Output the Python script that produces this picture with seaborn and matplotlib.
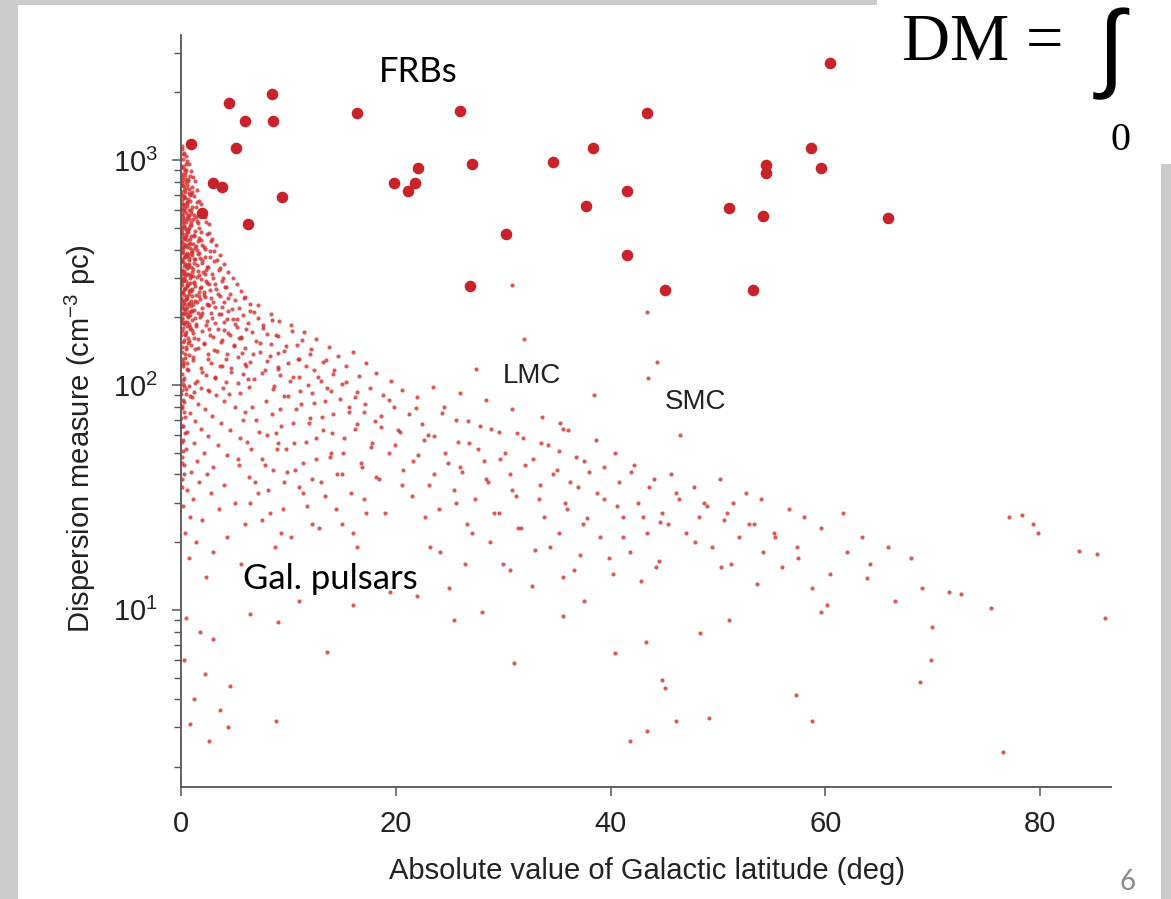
import matplotlib
matplotlib.use("Agg")
import matplotlib.pyplot as plt
from matplotlib.patches import Rectangle
import seaborn as sns
import pandas as pd

# ---------------- data ----------------
# Fast radio bursts: (|b| in deg, DM in pc cm^-3)
frb_lat = [0.9, 4.5, 8.5, 6.0, 8.6, 5.1, 3.0, 3.8, 2.0, 6.2, 9.4, 16.4, 19.8, 21.1,
           21.8, 22.1, 26.0, 27.1, 26.9, 30.3, 34.6, 38.4, 37.7, 41.5, 41.5, 43.4,
           45.1, 51.0, 53.3, 54.2, 54.5, 54.5, 58.7, 59.6, 60.4, 65.8]
frb_dm = [1178, 1792, 1963, 1490, 1490, 1131, 790, 759, 581, 520, 685, 1618, 790, 728,
          790, 921, 1651, 960, 275, 469, 980, 1131, 625, 728, 378, 1618,
          264, 612, 264, 564, 950, 875, 1131, 921, 2698, 552]

# Galactic pulsars, grouped by region of the sky
psr_plane = [
    (0.05, 1150), (0.3, 1080), (0.15, 1010), (0.6, 990), (0.2, 940), (0.45, 905), (0.1, 870), (0.8, 850), (0.35, 820), (0.05, 790),
    (0.55, 775), (1.0, 760), (0.25, 735), (0.7, 715), (0.1, 700), (0.4, 680), (1.2, 690), (0.85, 655), (0.2, 640), (0.55, 625),
    (0.05, 610), (1.4, 620), (0.3, 595), (0.9, 580), (0.65, 565), (0.15, 550), (1.1, 545), (0.45, 530), (1.6, 525), (0.25, 510),
    (0.75, 500), (0.05, 490), (1.3, 485), (0.5, 470), (0.95, 462), (0.2, 455), (1.7, 450), (0.6, 440), (0.1, 430), (1.15, 425),
    (0.35, 415), (0.8, 405), (1.5, 400), (0.05, 392), (0.55, 385), (1.0, 378), (0.25, 370), (1.8, 368), (0.7, 360), (0.15, 352),
    (1.25, 348), (0.45, 340), (0.9, 333), (0.05, 326), (1.6, 322), (0.3, 316), (0.65, 310), (1.1, 304), (0.2, 298), (1.9, 295),
    (0.5, 290), (0.85, 284), (0.1, 278), (1.35, 275), (0.4, 268), (0.75, 262), (1.7, 258), (0.25, 252), (1.05, 248), (0.6, 243),
    (0.05, 238), (1.5, 235), (0.35, 230), (0.95, 225), (0.15, 220), (1.25, 216), (0.7, 211), (0.45, 206), (1.85, 204), (0.1, 199),
    (1.0, 195), (0.55, 190), (0.3, 186), (1.4, 183), (0.8, 178), (0.05, 174), (1.15, 170), (0.4, 166), (0.65, 162), (1.6, 160),
    (0.2, 155), (0.95, 151), (0.5, 147), (1.3, 144), (0.1, 140), (0.75, 136), (0.35, 132), (1.1, 129), (0.6, 125), (0.15, 121),
    (0.12, 1120), (0.42, 1045), (0.7, 960), (0.28, 915), (0.95, 890), (0.08, 845), (0.5, 800), (1.3, 810), (0.22, 770), (0.78, 745),
    (0.38, 725), (1.05, 720), (0.12, 665), (0.62, 670), (1.5, 650), (0.32, 630), (0.95, 600), (0.05, 575), (0.48, 580), (1.25, 570),
    (0.72, 545), (0.18, 525), (1.45, 535), (0.88, 515), (0.42, 495), (1.9, 480), (0.1, 475), (0.68, 480), (1.2, 460), (0.3, 445),
    (0.82, 430), (1.55, 435), (0.05, 410), (0.5, 420), (1.3, 405), (2.0, 420), (0.22, 398), (0.98, 392), (0.62, 380), (1.7, 385),
    (0.1, 365), (0.4, 372), (1.18, 362), (2.2, 370), (0.75, 345), (0.28, 338), (1.45, 340), (0.05, 312), (0.58, 330), (1.0, 318),
    (2.3, 325), (0.38, 305), (1.7, 308), (0.85, 298), (0.15, 290), (1.25, 288), (0.55, 278), (2.4, 285), (1.9, 272), (0.3, 266),
    (1.0, 268), (0.7, 255), (0.08, 258), (1.4, 252), (2.1, 250), (0.45, 242), (0.9, 236), (1.75, 240), (0.2, 232), (1.15, 228),
    (0.6, 222), (2.5, 226), (0.35, 212), (1.6, 210), (0.05, 208), (0.85, 205), (1.3, 198), (0.15, 188), (0.6, 182), (1.05, 175),
]
psr_midplane = [
    (0.16, 1064), (0.51, 962), (0.04, 928), (0.33, 862), (0.69, 828), (0.11, 812), (0.47, 752), (0.03, 724), (0.89, 708), (0.26, 689),
    (0.58, 652), (0.09, 637), (0.36, 612), (0.77, 598), (0.21, 563), (0.52, 553), (0.06, 536), (0.93, 528), (0.31, 505), (0.64, 492),
    (0.13, 468), (0.43, 458), (0.83, 448), (0.02, 437), (0.27, 422), (0.57, 412), (1.06, 398), (0.16, 386), (0.44, 377), (0.79, 366),
    (0.04, 358), (0.34, 344), (0.67, 336), (0.12, 322), (0.49, 313), (0.92, 306), (0.24, 296), (0.03, 286), (0.61, 280), (0.37, 271),
    (0.81, 264), (0.14, 259), (0.52, 248), (0.02, 243), (0.29, 236), (0.73, 231), (0.11, 224), (0.42, 218), (0.96, 214), (0.21, 207),
    (0.63, 201), (0.05, 196), (0.34, 190), (0.78, 186), (0.17, 179), (0.48, 172), (0.03, 166), (0.27, 159), (0.69, 153), (0.12, 147),
    (0.41, 138), (0.06, 131), (0.23, 124), (0.55, 118), (0.09, 112), (0.32, 107), (0.14, 101), (0.44, 96), (0.04, 91), (0.19, 86),
    (0.07, 81), (0.28, 76), (0.03, 71), (0.15, 66), (0.36, 61), (0.05, 56), (0.21, 51), (0.1, 45), (0.27, 40), (0.06, 35),
]
psr_disk = [
    (0.37, 883), (1.12, 842), (0.63, 806), (0.19, 771), (1.48, 733), (0.86, 702), (0.27, 684), (1.71, 661), (0.53, 644), (1.02, 617),
    (0.14, 602), (2.06, 588), (0.78, 571), (1.36, 556), (0.41, 541), (2.31, 528), (0.97, 512), (0.07, 503), (1.63, 497), (0.59, 483),
    (2.58, 476), (1.21, 466), (0.33, 451), (1.87, 443), (2.82, 437), (0.74, 424), (1.44, 417), (0.18, 409), (2.19, 402), (3.07, 396),
    (0.91, 388), (1.58, 381), (0.46, 374), (2.67, 371), (1.29, 364), (3.34, 358), (0.09, 355), (1.96, 349), (0.67, 342), (2.44, 336),
    (3.61, 331), (1.13, 327), (0.31, 321), (2.03, 318), (2.91, 312), (0.82, 307), (1.52, 302), (3.88, 299), (0.23, 293), (2.36, 289),
    (1.18, 283), (3.17, 280), (0.57, 276), (1.81, 270), (4.13, 272), (2.72, 265), (0.94, 261), (0.13, 256), (3.46, 254), (1.67, 249),
    (2.24, 245), (0.49, 241), (4.41, 243), (1.34, 237), (3.02, 234), (0.76, 229), (2.57, 227), (3.79, 223), (1.93, 219), (0.26, 217),
    (4.72, 218), (1.07, 213), (2.84, 209), (3.53, 207), (0.61, 203), (1.74, 200), (4.28, 197), (2.39, 193), (0.04, 191), (3.21, 189),
    (1.41, 186), (5.03, 187), (0.88, 181), (2.63, 178), (3.97, 176), (1.98, 173), (0.35, 169), (4.57, 167), (2.97, 164), (1.22, 162),
    (5.36, 161), (0.72, 157), (3.68, 155), (2.15, 152), (4.91, 149), (1.56, 146), (0.44, 144), (3.33, 141), (2.48, 137), (5.71, 139),
    (1.09, 133), (4.18, 131), (0.21, 127), (2.77, 125), (3.86, 122), (1.83, 119), (6.04, 121), (0.66, 116), (4.66, 114), (2.29, 111),
    (3.12, 107), (1.47, 104), (5.28, 102), (0.29, 99), (3.93, 97), (2.53, 95), (6.37, 98), (1.17, 93), (4.47, 91), (0.84, 89),
]
psr_inner = [
    (1.9, 640), (2.2, 560), (2.6, 520), (1.8, 590), (2.4, 470), (2.9, 445), (3.3, 420), (2.1, 410), (2.7, 395), (3.6, 380),
    (2.0, 360), (3.1, 355), (4.0, 345), (2.5, 335), (3.5, 325), (4.4, 318), (2.2, 310), (3.0, 300), (4.8, 298), (3.8, 290),
    (2.6, 282), (5.2, 280), (4.2, 272), (3.3, 266), (2.1, 260), (5.6, 262), (4.6, 255), (3.6, 249), (2.8, 244), (6.0, 246),
    (5.0, 238), (4.0, 233), (2.4, 228), (6.4, 230), (3.2, 222), (5.4, 220), (4.4, 214), (2.0, 210), (6.8, 212), (3.7, 206),
    (5.8, 204), (2.9, 199), (4.8, 196), (7.2, 198), (4.0, 190), (6.2, 188), (2.3, 184), (5.2, 181), (3.4, 177), (7.6, 180),
    (6.6, 172), (4.4, 170), (2.7, 166), (8.0, 168), (5.6, 163), (3.8, 159), (7.0, 157), (2.1, 153), (4.9, 150), (8.4, 152),
    (6.0, 146), (3.1, 143), (7.4, 140), (4.3, 137), (9.0, 139), (5.3, 133), (2.5, 130), (8.0, 128), (6.4, 126), (3.6, 122),
    (10.0, 125), (4.7, 119), (7.8, 117), (2.0, 114), (5.8, 112), (9.2, 111), (3.2, 108), (6.8, 106), (11.0, 108), (4.2, 103),
]
psr_spread = [
    (5.83, 243), (7.14, 227), (6.47, 214), (8.36, 206), (5.21, 197), (9.12, 193), (7.68, 184), (6.09, 178), (10.37, 174), (8.81, 166),
    (5.57, 161), (11.23, 158), (7.36, 153), (9.74, 149), (12.08, 144), (6.72, 138), (8.27, 135), (10.91, 131), (13.46, 129), (5.94, 124),
    (11.62, 121), (9.03, 118), (14.28, 116), (7.51, 113), (12.79, 109), (6.28, 106), (10.14, 104), (15.37, 103), (8.66, 99), (13.58, 97),
    (11.07, 94), (5.46, 92), (16.42, 93), (9.58, 89), (14.81, 87), (7.93, 85), (12.36, 83), (6.61, 80), (17.13, 82), (10.73, 78),
    (15.62, 76), (8.49, 74), (13.17, 72), (5.77, 70), (11.89, 68), (18.06, 69), (9.31, 66), (16.24, 64), (7.22, 62), (14.03, 61),
    (12.54, 58), (6.16, 56), (10.48, 55), (17.71, 53), (8.94, 52), (15.08, 50), (13.92, 48), (5.34, 47), (11.33, 45), (7.79, 44),
    (16.87, 43), (9.86, 41), (14.56, 40), (12.19, 38), (6.87, 37), (18.42, 38), (10.97, 35), (8.13, 34), (15.84, 33), (13.37, 32),
    (6.41, 30), (11.76, 29), (9.47, 28), (17.26, 27), (7.58, 25), (14.97, 24), (12.83, 23), (10.22, 21), (8.71, 19), (16.39, 19),
]
psr_low_lat = [
    (0.2, 105), (0.7, 99), (1.3, 102), (0.1, 95), (1.9, 97), (0.5, 91), (2.6, 94), (1.0, 88), (0.3, 84), (3.3, 90),
    (1.6, 82), (0.05, 79), (4.0, 85), (2.2, 78), (0.8, 75), (5.0, 80), (0.4, 72), (2.9, 73), (1.3, 69), (6.0, 76),
    (0.1, 66), (3.7, 68), (1.9, 64), (0.6, 62), (4.6, 63), (7.0, 70), (2.5, 59), (0.2, 57), (5.5, 58), (1.2, 55),
    (3.4, 54), (8.0, 60), (0.5, 52), (6.5, 52), (2.1, 50), (0.05, 48), (4.3, 49), (1.5, 46), (9.0, 55), (7.5, 47),
    (0.3, 44), (3.0, 43), (5.4, 44), (0.9, 41), (2.4, 40), (8.6, 42), (0.1, 38), (6.3, 39), (1.7, 37), (4.0, 36),
    (0.6, 34), (9.6, 37), (2.8, 33), (7.2, 33), (1.1, 31), (0.2, 29), (5.0, 30), (3.5, 28), (0.8, 26), (8.3, 27),
    (2.0, 25), (6.0, 24), (0.4, 22), (4.3, 21), (1.4, 20), (9.3, 22), (3.0, 18), (0.7, 17), (5.6, 16), (2.3, 14),
]
psr_mid_lat = [
    (8.5, 195), (10.2, 185), (9.0, 165), (11.5, 172), (12.6, 160), (10.8, 150), (13.8, 148), (9.6, 142), (12.0, 138), (14.6, 135),
    (16.0, 140), (11.0, 130), (13.2, 126), (15.4, 122), (9.0, 120), (17.2, 125), (12.4, 116), (14.2, 112), (10.4, 108), (16.6, 110),
    (18.2, 113), (13.0, 104), (11.8, 100), (15.0, 101), (19.6, 104), (8.6, 96), (17.6, 97), (14.0, 94), (12.2, 92), (20.6, 95),
    (10.0, 89), (16.2, 88), (18.8, 90), (13.4, 85), (22.0, 88), (11.2, 82), (15.6, 80), (9.2, 78), (19.8, 80), (17.0, 76),
    (14.2, 74), (12.0, 71), (21.2, 74), (10.4, 68), (16.4, 67), (18.6, 65), (13.2, 63), (8.8, 61), (20.4, 62), (15.2, 58),
    (11.6, 56), (17.8, 55), (22.6, 57), (9.8, 52), (14.0, 50), (19.4, 50), (12.6, 47), (16.8, 45), (21.6, 46), (10.6, 42),
    (15.0, 40), (18.2, 39), (13.0, 37), (20.6, 36), (11.4, 33), (17.0, 31), (14.4, 28), (19.0, 27), (12.2, 24), (16.0, 22),
]
psr_band = [
    (19.37, 86), (21.84, 79), (18.62, 73), (24.27, 75), (22.46, 67), (26.73, 69), (20.18, 63), (28.91, 64), (23.57, 59), (31.26, 61),
    (25.82, 56), (19.94, 54), (33.48, 55), (27.63, 52), (22.09, 49), (35.17, 51), (29.74, 47), (24.86, 45), (37.52, 46), (32.04, 44),
    (20.71, 42), (39.36, 43), (26.18, 41), (34.67, 40), (41.93, 41), (28.37, 38), (23.11, 36), (36.24, 37), (43.58, 35), (30.82, 34),
    (38.71, 33), (21.47, 32), (46.13, 33), (33.29, 31), (25.63, 30), (40.57, 29), (48.74, 30), (35.92, 28), (29.18, 27), (43.06, 26),
    (50.87, 27), (22.73, 26), (37.43, 24), (45.39, 24), (31.67, 23), (52.91, 24), (27.06, 22), (41.12, 21), (47.82, 20), (34.36, 19),
    (55.28, 21), (24.14, 18), (39.88, 17), (44.51, 16.5), (29.97, 16), (50.24, 15.5), (36.61, 15), (57.47, 17), (42.83, 13.5), (32.72, 12.8),
]
psr_high_lat = [
    (23.5, 98), (26.0, 92), (24.5, 80), (28.4, 86), (30.8, 78), (25.6, 70), (27.8, 66), (33.6, 72), (29.6, 62), (31.8, 58),
    (23.0, 60), (36.0, 63), (26.8, 55), (34.2, 54), (38.6, 57), (24.6, 50), (30.2, 50), (28.2, 46), (32.8, 47), (36.8, 48),
    (40.4, 50), (26.0, 43), (35.0, 42), (23.6, 40), (30.6, 40), (38.0, 41), (42.2, 44), (28.6, 37), (33.4, 36), (25.4, 34),
    (37.0, 35), (40.8, 37), (44.0, 38), (31.2, 32), (27.4, 31), (35.8, 30), (39.4, 31), (42.6, 30), (24.0, 28), (29.6, 27),
    (33.8, 26), (37.8, 25.5), (41.2, 26), (44.8, 27), (26.6, 24), (31.4, 23), (35.2, 22), (39.0, 21), (43.4, 22), (28.8, 20),
    (23.2, 19), (33.0, 18.5), (37.2, 17.5), (41.8, 18), (26.4, 16), (30.6, 15), (35.6, 14), (40.2, 14.5), (44.2, 15.5), (25.0, 12.5),
    (45.6, 40), (47.8, 35), (50.2, 38), (52.6, 33), (46.4, 31), (49.0, 29), (51.4, 30), (54.0, 31), (56.6, 28), (48.2, 26),
    (44.6, 24.6), (50.6, 25), (53.4, 24), (58.0, 26), (61.6, 27), (47.0, 22), (52.0, 21), (55.2, 22), (59.6, 23), (63.4, 21),
    (49.4, 19), (54.2, 18), (57.4, 19), (62.0, 18), (65.8, 19), (51.2, 16), (56.0, 15.5), (60.4, 14.5), (64.2, 16), (68.0, 17),
    (53.6, 13), (58.8, 12.5), (63.9, 13.9), (69.0, 12.5), (71.5, 12), (72.6, 11.8), (77.1, 25.9), (78.3, 26.5), (79.3, 24), (79.8, 22),
    (83.6, 18.2), (85.3, 17.7), (75.4, 10.2), (66.5, 11), (60.2, 10.5),
]
psr_magellanic = [
    (30.8, 278), (35.3, 68), (35.6, 64), (31.9, 160), (43.4, 211), (44.3, 126), (43.5, 107), (27.5, 118), (38.5, 90), (46.5, 60),
]
psr_nearby = [
    (0.5, 9.2), (1.8, 8.0), (3.0, 7.4), (0.3, 6.0), (2.2, 5.2), (4.6, 4.6), (1.2, 4.0), (3.6, 3.6), (0.8, 3.1), (4.4, 3.0),
    (2.6, 2.6), (6.4, 9.6), (9.0, 8.8), (8.8, 3.2), (13.6, 6.5), (25.4, 9.0), (31.0, 5.8), (35.6, 9.4), (40.4, 6.4), (43.3, 7.2),
    (48.3, 7.9), (51.0, 9.0), (41.8, 2.6), (43.4, 2.9), (44.8, 4.9), (45.1, 4.5), (46.1, 3.2), (49.2, 3.3), (57.3, 4.2), (58.8, 3.2),
    (59.6, 9.8), (69.9, 8.4), (69.8, 6.0), (68.8, 4.8), (76.5, 2.34), (86.0, 9.2), (22.0, 11.5), (16.0, 10.5), (11.0, 11.0), (19.5, 12.0),
    (28.0, 9.8), (37.5, 11.0),
]

x_ticks = [0, 20, 40, 60, 80]
x_label = "Absolute value of Galactic latitude (deg)"
y_label = r"Dispersion measure (cm$^{-3}$ pc)"

# ---------------- style ----------------
sns.set_theme(style="ticks")
plt.rcParams["font.family"] = ["Liberation Sans", "DejaVu Sans"]
plt.rcParams["mathtext.default"] = "regular"

W, H = 1171, 899
fig = plt.figure(figsize=(W / 100, H / 100), dpi=100)
fig.patch.set_facecolor("#cbcbcb")

def px_rect(x0, y0, x1, y1, color):
    fig.patches.append(Rectangle((x0 / W, 1 - y1 / H), (x1 - x0) / W, (y1 - y0) / H,
                                 transform=fig.transFigure, facecolor=color,
                                 edgecolor="none", zorder=-10))

px_rect(18, 5, 1161, H, "white")
px_rect(877, 0, W, 164, "white")

ax = fig.add_axes([181 / W, 1 - 787 / H, 930 / W, 752 / H])
ax.set_facecolor("none")
ax.set_zorder(2)

pulsars = pd.DataFrame(psr_plane + psr_midplane + psr_disk + psr_inner + psr_spread +
                       psr_low_lat + psr_mid_lat + psr_band + psr_high_lat +
                       psr_magellanic + psr_nearby, columns=["lat", "dm"])
frbs = pd.DataFrame({"lat": frb_lat, "dm": frb_dm})

sns.scatterplot(data=pulsars, x="lat", y="dm", ax=ax, s=9, color="#d33030",
                alpha=0.8, linewidth=0, zorder=2)
sns.scatterplot(data=frbs, x="lat", y="dm", ax=ax, s=70, color="#c8232b",
                linewidth=0, zorder=3)

ax.set_yscale("log")
ax.set_xlim(0, 86.6)
ax.set_ylim(1.63, 3600)
ax.set_xticks(x_ticks)
ax.set_xticklabels([str(t) for t in x_ticks])

for s in ("top", "right"):
    ax.spines[s].set_visible(False)
for s in ("left", "bottom"):
    ax.spines[s].set_color("#555555")
    ax.spines[s].set_linewidth(1.3)

ax.tick_params(axis="both", which="major", direction="out", length=6.5, width=1.1,
               color="#555555", labelsize=21, labelcolor="#222222", pad=10)
ax.tick_params(axis="y", which="minor", direction="out", length=5, width=1.0,
               color="#555555")
ax.tick_params(axis="x", which="minor", length=0)

ax.set_xlabel(x_label, fontsize=21, color="#222222")
ax.set_ylabel(y_label, fontsize=21, color="#222222")
ax.xaxis.set_label_coords(0.501, -0.093)
ax.yaxis.set_label_coords(-0.089, 0.463)

# labels inside the panel
ax.text(22.1, 2460, "FRBs", fontsize=25, family="Lato", color="black",
        ha="center", va="center")
ax.text(5.8, 12.4, "Gal. pulsars", fontsize=25, family="Lato", color="black",
        ha="left", va="baseline")
ax.text(32.7, 110, "LMC", fontsize=20, color="#222222", ha="center", va="center")
ax.text(47.9, 84, "SMC", fontsize=20, color="#222222", ha="center", va="center")

# dispersion-measure integral heading
fig.text(902 / W, 1 - 60 / H, "DM =", fontsize=48, family="Liberation Serif",
         color="black", ha="left", va="baseline")
fig.text(1112 / W, 1 - 54 / H, r"$\int$", fontsize=70, math_fontfamily="cm",
         color="black", ha="center", va="center")
fig.text(1120 / W, 1 - 141 / H, "0", fontsize=29, family="Liberation Serif",
         color="black", ha="center", va="center")

# slide number
fig.text(1128 / W, 1 - 882 / H, "6", fontsize=20, family="Lato", color="#8a8a8a",
         ha="center", va="center")

fig.savefig("out.png", dpi=100, facecolor=fig.get_facecolor())
